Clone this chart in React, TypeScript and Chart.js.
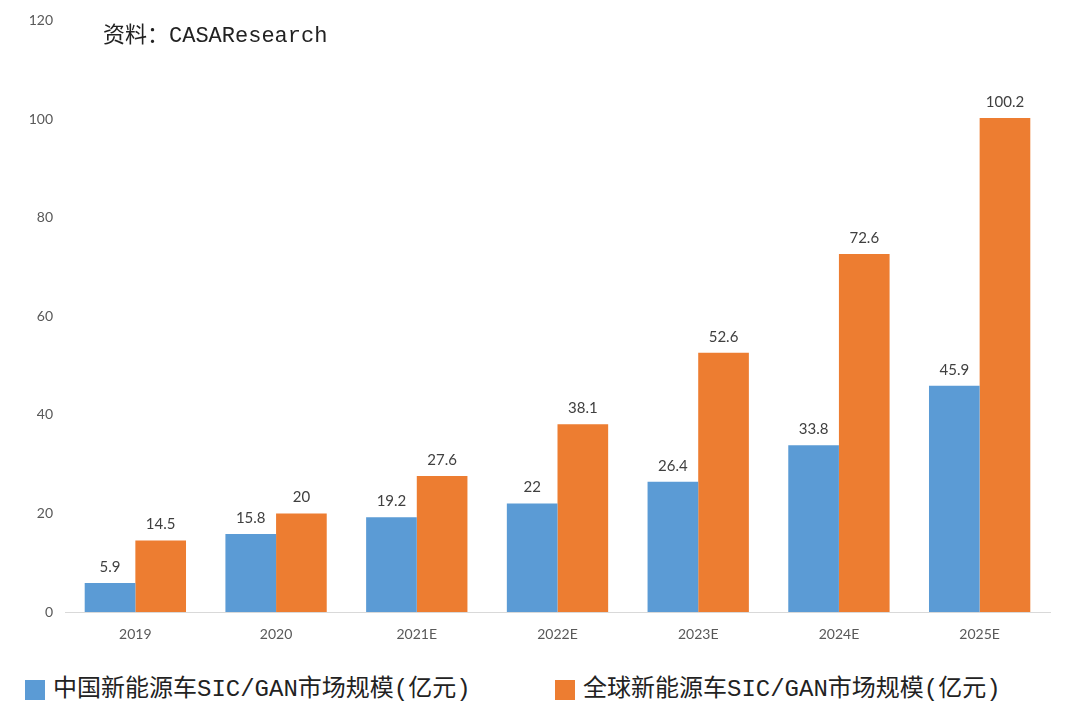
import React, { useEffect, useRef } from "react";
import { Chart, registerables } from "chart.js";

Chart.register(...registerables);

const categories = ["2019", "2020", "2021E", "2022E", "2023E", "2024E", "2025E"];
const chinaValues = [5.9, 15.8, 19.2, 22, 26.4, 33.8, 45.9];
const globalValues = [14.5, 20, 27.6, 38.1, 52.6, 72.6, 100.2];
const seriesLabels = ["中国新能源车SIC/GAN市场规模(亿元)", "全球新能源车SIC/GAN市场规模(亿元)"];
const seriesColors = ["#5B9BD5", "#ED7D31"];
const titleText = "资料：CASAResearch";

const valueLabelPlugin = {
  id: "valueLabels",
  afterDatasetsDraw(chart: any) {
    const ctx = chart.ctx;
    ctx.save();
    ctx.font = "15px Lato, 'Open Sans', sans-serif";
    ctx.fillStyle = "#404040";
    ctx.textAlign = "center";
    ctx.textBaseline = "middle";
    chart.data.datasets.forEach((ds: any, i: number) => {
      const meta = chart.getDatasetMeta(i);
      meta.data.forEach((bar: any, j: number) => {
        ctx.fillText(String(ds.data[j]), bar.x, bar.y - 16);
      });
    });
    ctx.restore();
  },
};

export default function App() {
  const ref = useRef<HTMLCanvasElement | null>(null);
  useEffect(() => {
    if (!ref.current) return;
    const chart = new Chart(ref.current, {
      type: "bar",
      data: {
        labels: categories,
        datasets: [
          { label: seriesLabels[0], data: chinaValues, backgroundColor: seriesColors[0] },
          { label: seriesLabels[1], data: globalValues, backgroundColor: seriesColors[1] },
        ],
      },
      options: {
        animation: false,
        responsive: false,
        maintainAspectRatio: false,
        layout: { padding: { top: 20, right: 30, bottom: 0, left: 0 } },
        datasets: { bar: { categoryPercentage: 0.72, barPercentage: 1 } } as any,
        plugins: { legend: { display: false }, tooltip: { enabled: false }, title: { display: false } },
        scales: {
          x: {
            grid: { display: false, drawTicks: false },
            border: { display: true, color: "#D9D9D9", width: 1 },
            ticks: { color: "#595959", font: { family: "Lato, 'Open Sans', sans-serif", size: 14 }, padding: 14 },
            afterFit(scale: any) { scale.height = 48; },
          },
          y: {
            min: 0,
            max: 120,
            ticks: { stepSize: 20, color: "#595959", font: { family: "Lato, 'Open Sans', sans-serif", size: 14 }, padding: 12 },
            grid: { display: false, drawTicks: false },
            border: { display: false },
            afterFit(scale: any) { scale.width = 65; },
          },
        },
      },
      plugins: [valueLabelPlugin],
    } as any);
    return () => chart.destroy();
  }, []);

  const legendFont = "'Liberation Mono', 'Noto Sans CJK SC', monospace";
  return (
    <div style={{ position: "fixed", left: 0, top: 0, width: 1080, height: 721, background: "#fff" }}>
      <canvas ref={ref} width={1080} height={660} style={{ position: "absolute", left: 0, top: 0 }} />
      <div style={{ position: "absolute", left: 103, top: 22, fontFamily: legendFont, fontSize: 22, color: "#222", whiteSpace: "nowrap", lineHeight: "30px" }}>
        {titleText}
      </div>
      {seriesLabels.map((lab, i) => (
        <div key={i} style={{ position: "absolute", left: i === 0 ? 25 : 555, top: 676, display: "flex", alignItems: "center", whiteSpace: "nowrap" }}>
          <span style={{ display: "inline-block", width: 20, height: 20, background: seriesColors[i], marginRight: 8 }} />
          <span style={{ fontFamily: legendFont, fontSize: 24, color: "#222", lineHeight: "28px" }}>{lab}</span>
        </div>
      ))}
    </div>
  );
}
